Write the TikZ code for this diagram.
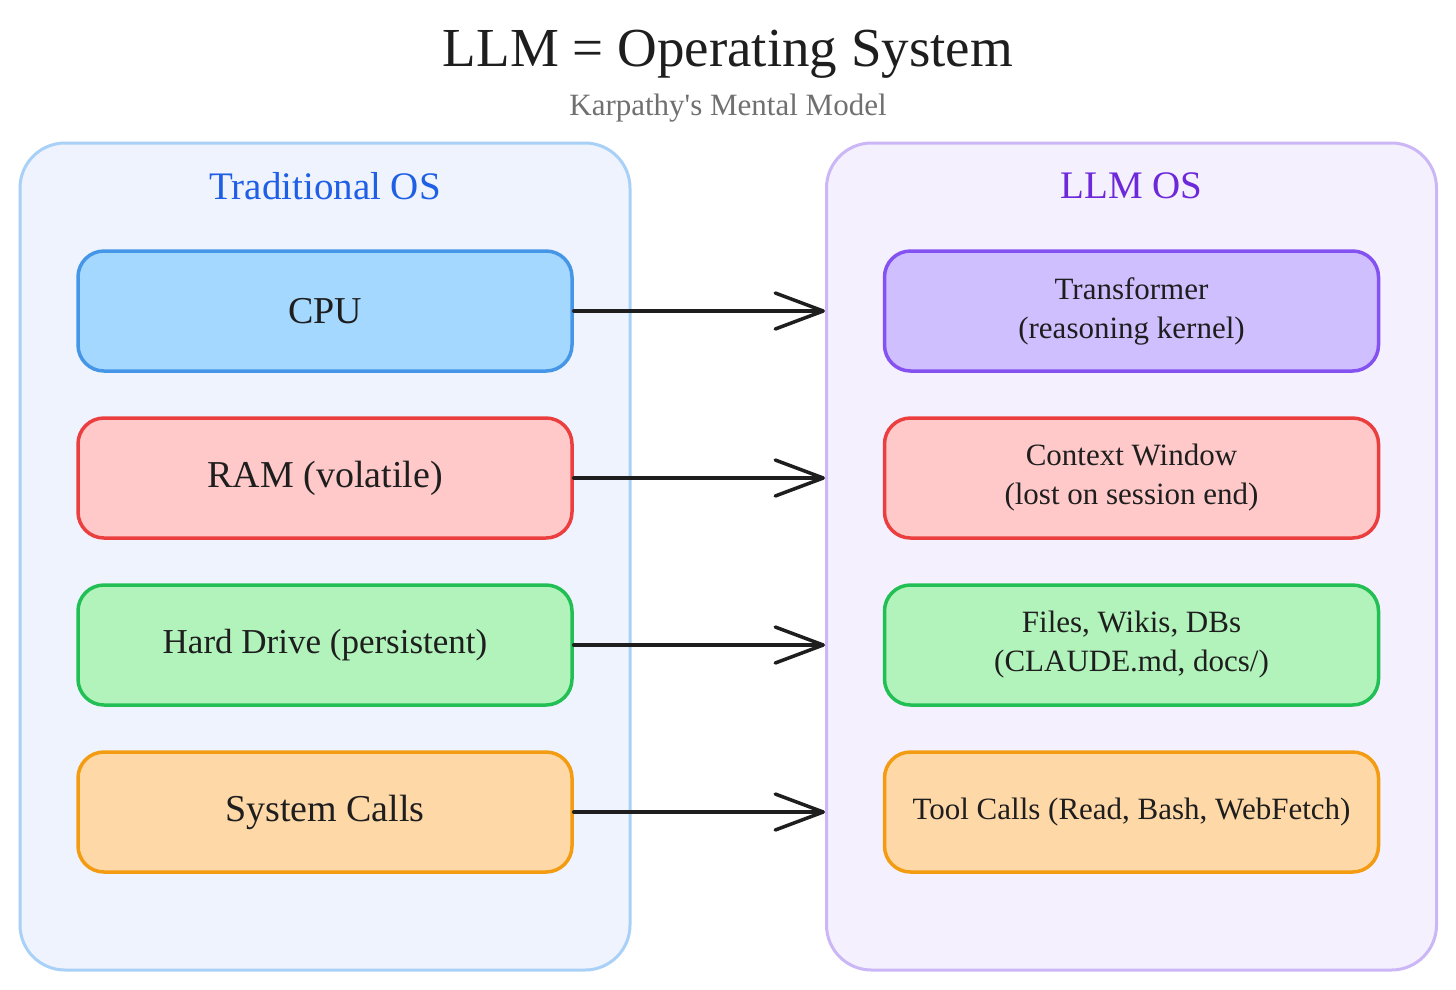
\documentclass[tikz,border=0pt]{standalone}
\usepackage{fontspec}
\setmainfont{Liberation Serif}
\newfontfamily\rawserif[Ligatures=TeXOff]{Liberation Serif}
\usetikzlibrary{arrows.meta}
\definecolor{ink}{HTML}{1E1E1E}
\definecolor{subgray}{HTML}{707070}
\definecolor{tradblue}{HTML}{1E5FE6}
\definecolor{llmpurple}{HTML}{6D28D9}
\definecolor{contAfill}{HTML}{EFF3FE}
\definecolor{contAdraw}{HTML}{A9D1F7}
\definecolor{contBfill}{HTML}{F4F0FE}
\definecolor{contBdraw}{HTML}{CBB6F6}
\definecolor{bluefill}{HTML}{A5D8FF}
\definecolor{bluedraw}{HTML}{4696E8}
\definecolor{purplefill}{HTML}{D0BFFF}
\definecolor{purpledraw}{HTML}{8452F0}
\definecolor{redfill}{HTML}{FFC9C9}
\definecolor{reddraw}{HTML}{EB3F3F}
\definecolor{greenfill}{HTML}{B2F2BB}
\definecolor{greendraw}{HTML}{22BF55}
\definecolor{orangefill}{HTML}{FFD8A8}
\definecolor{orangedraw}{HTML}{F39C12}
\tikzset{
  container/.style={draw, line width=3pt, rounded corners=45pt, minimum width=610pt, minimum height=827pt, inner sep=0pt},
  itembox/.style={draw, line width=3.5pt, rounded corners=26pt, minimum width=494pt, minimum height=120pt, inner sep=0pt, align=center, text=ink},
  bigtext/.style={font=\fontsize{38}{46}\selectfont},
  smalltext/.style={font=\fontsize{31}{39}\selectfont},
  maparrow/.style={draw=ink, line width=3.5pt, line cap=round, -{Straight Barb[length=48pt,width=36pt,line width=3.5pt,round]}},
}
\begin{document}
\begin{tikzpicture}[x=1pt,y=-1pt]
\fill[white] (0,0) rectangle (1456,989);
\useasboundingbox (0,0) rectangle (1456,989);

\node[text=ink, font=\fontsize{55}{60}\selectfont] (title) at (728,54) {LLM = Operating System};
\node[text=subgray, font=\rawserif\fontsize{31}{36}\selectfont] (subtitle) at (728,108) {Karpathy's Mental Model};

\node[container, draw=contAdraw, fill=contAfill] (tradOS) at (325,556.5) {};
\node[container, draw=contBdraw, fill=contBfill] (llmOS) at (1131.5,556.5) {};

\node[text=tradblue, font=\fontsize{39}{44}\selectfont] (tradtitle) at (325,186) {Traditional OS};
\node[text=llmpurple, font=\fontsize{39}{44}\selectfont] (llmtitle) at (1131.5,186) {LLM OS};

\node[itembox, bigtext, draw=bluedraw, fill=bluefill] (cpu) at (325,311) {CPU};
\node[itembox, bigtext, draw=reddraw, fill=redfill] (ram) at (325,478) {RAM (volatile)};
\node[itembox, font=\fontsize{35}{42}\selectfont, draw=greendraw, fill=greenfill] (hd) at (325,645) {Hard Drive (persistent)};
\node[itembox, bigtext, draw=orangedraw, fill=orangefill] (sys) at (325,812) {System Calls};

\node[itembox, smalltext, draw=purpledraw, fill=purplefill] (tf) at (1131.5,311) {Transformer\\(reasoning kernel)};
\node[itembox, smalltext, draw=reddraw, fill=redfill] (ctx) at (1131.5,478) {Context Window\\(lost on session end)};
\node[itembox, smalltext, draw=greendraw, fill=greenfill] (files) at (1131.5,645) {Files, Wikis, DBs\\(CLAUDE.md, docs/)};
\node[itembox, smalltext, draw=orangedraw, fill=orangefill] (tools) at (1131.5,812) {Tool Calls (Read, Bash, WebFetch)};

\draw[maparrow] (cpu.east) -- (cpu.east -| llmOS.west);
\draw[maparrow] (ram.east) -- (ram.east -| llmOS.west);
\draw[maparrow] (hd.east) -- (hd.east -| llmOS.west);
\draw[maparrow] (sys.east) -- (sys.east -| llmOS.west);
\end{tikzpicture}
\end{document}
